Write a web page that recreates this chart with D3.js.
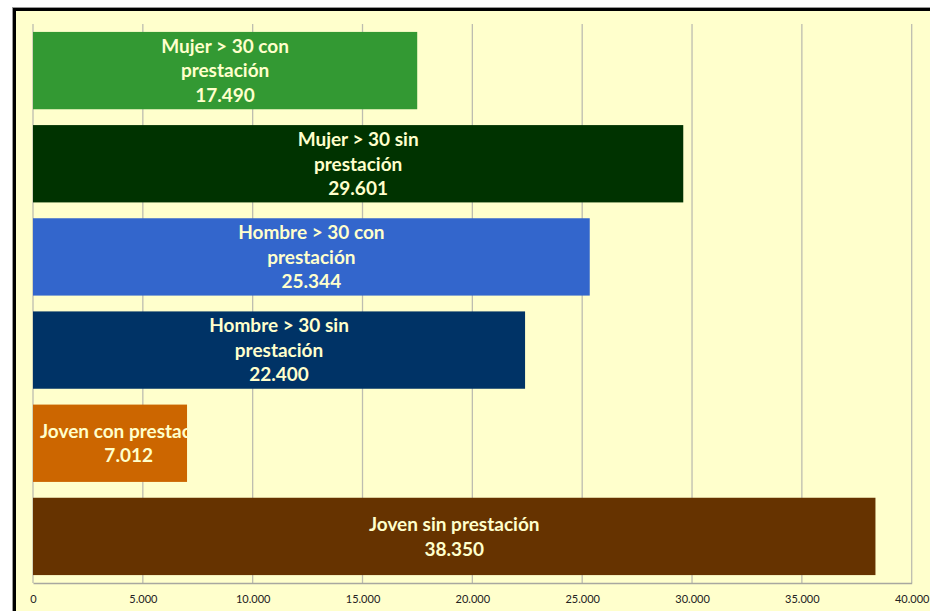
<!DOCTYPE html>
<html><head><meta charset="utf-8">
<script src="https://cdn.jsdelivr.net/npm/d3@7"></script>
<style>html,body{margin:0;padding:0;background:#fff;overflow:hidden}</style>
</head><body>
<svg id="c" width="930" height="611"></svg>
<script>
const categories = ["Mujer > 30 con\nprestación","Mujer > 30 sin\nprestación","Hombre > 30 con\nprestación","Hombre > 30 sin\nprestación","Joven con prestación","Joven sin prestación"];
const values = [17490, 29601, 25344, 22400, 7012, 38350];
const colors = ["#339933","#003300","#3366CC","#003366","#CC6600","#663300"];
const tickValues = [0,5000,10000,15000,20000,25000,30000,35000,40000];
const tickLabels = ["0","5.000","10.000","15.000","20.000","25.000","30.000","35.000","40.000"];
const fmt = v => d3.format(",")(v).replace(/,/g,".");

(function(){
const svg = d3.select("#c");
svg.append("rect").attr("x",12.5).attr("y",7.5).attr("width",1000).attr("height",700).attr("fill","none").attr("stroke","#999").attr("stroke-width",1);
svg.append("rect").attr("x",14.5).attr("y",9.5).attr("width",1000).attr("height",700).attr("fill","#FFFFCC").attr("stroke","#000").attr("stroke-width",3);

const pL=33, pR=911.7, pT=24, pB=583;
const x = d3.scaleLinear().domain([0,40000]).range([pL,pR]);
const y = d3.scaleBand().domain(categories).range([pT,pB]).paddingInner(0.17).paddingOuter(0.085);

svg.append("g").selectAll("line").data(tickValues).join("line")
  .attr("x1",d=>x(d)).attr("x2",d=>x(d)).attr("y1",pT).attr("y2",pB)
  .attr("stroke","#BDBDB0").attr("stroke-width",1.3);

const ax = svg.append("g").attr("transform",`translate(0,${pB})`)
  .call(d3.axisBottom(x).tickValues(tickValues).tickFormat((d,i)=>tickLabels[i]).tickSize(0).tickPadding(12));
ax.select(".domain").attr("stroke","#A8A8A0").attr("stroke-width",1.3);
ax.selectAll("text").attr("font-family","Lato, 'Open Sans', sans-serif").attr("font-size",11).attr("fill","#222");

const defs = svg.append("defs");
const data = categories.map((c,i)=>({c,v:values[i],col:colors[i],i}));
data.forEach(d=>{
  defs.append("clipPath").attr("id","clip"+d.i).append("rect")
    .attr("x",x(0)).attr("y",y(d.c)).attr("width",x(d.v)-x(0)).attr("height",y.bandwidth());
});

svg.append("g").selectAll("rect").data(data).join("rect")
  .attr("x",x(0)).attr("y",d=>y(d.c)).attr("width",d=>x(d.v)-x(0)).attr("height",y.bandwidth())
  .attr("fill",d=>d.col);

const lh = 24.5;
const lg = svg.append("g");
data.forEach(d=>{
  const lines = d.c.split("\n").concat([fmt(d.v)]);
  const g = lg.append("g").attr("clip-path",`url(#clip${d.i})`);
  const t = g.append("text").attr("text-anchor","middle")
    .attr("font-family","Lato, 'Open Sans', sans-serif").attr("font-weight","bold").attr("font-size",19)
    .attr("fill","#FFFFCC");
  const cy = y(d.c)+y.bandwidth()/2;
  const n = lines.length;
  lines.forEach((l,k)=>{
    t.append("tspan").attr("x",0).attr("y",cy+(k-(n-1)/2)*lh).attr("dy","0.36em").text(l);
  });
  const w = t.node().getBBox().width;
  const cx = Math.max((x(0)+x(d.v))/2, x(0)+7+w/2);
  t.selectAll("tspan").attr("x",cx);
});
})();
</script>
</body></html>
